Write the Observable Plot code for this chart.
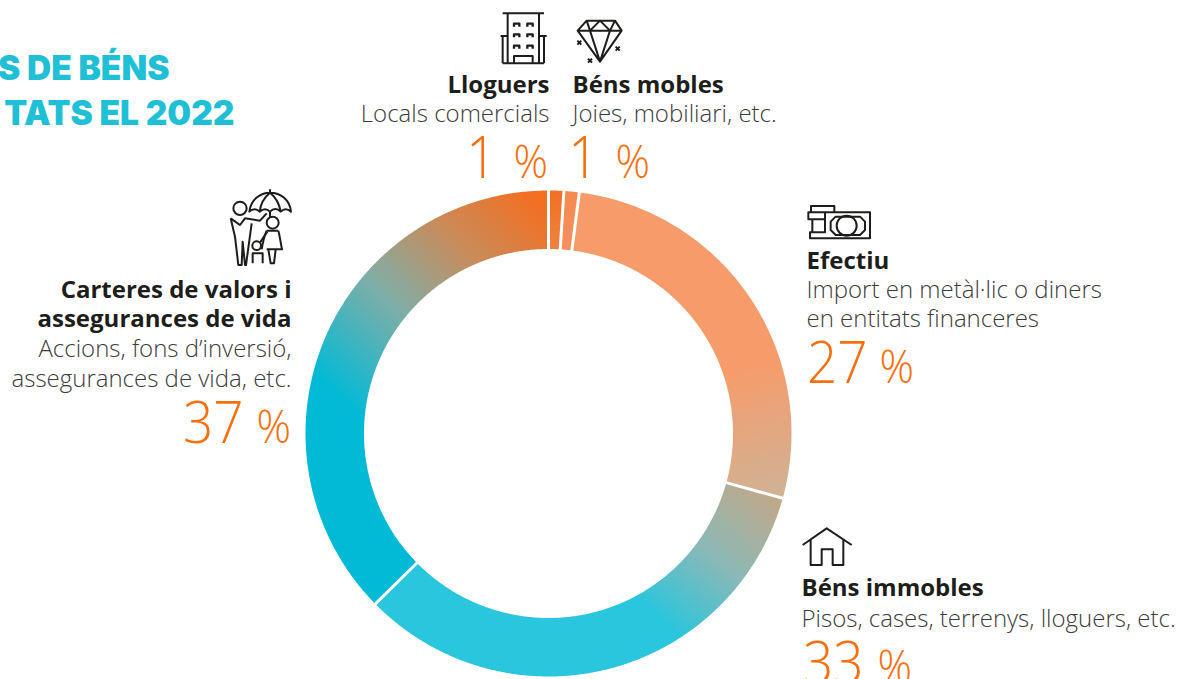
<!DOCTYPE html>
<html><head><meta charset="utf-8">
<style>html,body{margin:0;padding:0;background:#fff;overflow:hidden}svg{display:block}</style>
<script src="https://cdn.jsdelivr.net/npm/d3@7"></script>
<script src="https://cdn.jsdelivr.net/npm/@observablehq/plot@0.6"></script>
</head><body><div id="chart"></div>
<script>
const categories = ["Lloguers","Béns mobles","Efectiu","Béns immobles","Carteres de valors i assegurances de vida"];
const shares = [1,1,27,33,37];
const titleLines = ["S DE BÉNS","TATS EL 2022"];

const CX=548,CY=433,RO=243,RI=184.5,RM=(RO+RI)/2;
const total=d3.sum(shares);
let acc=0;
const slices=categories.map((name,i)=>{const a0=acc/total*2*Math.PI;acc+=shares[i];const a1=acc/total*2*Math.PI;return{name,a0,a1}});
const polar=(a,r)=>({x:CX+r*Math.sin(a),y:CY-r*Math.cos(a)});
const arcPoints=s=>{const n=Math.max(2,Math.ceil((s.a1-s.a0)/0.008));return d3.range(n+1).map(k=>polar(s.a0+(s.a1-s.a0)*k/n,RM))};
const seams=slices.map(s=>({p:polar(s.a0,RI-2),q:polar(s.a0,RO+2)}));

const gradients=[
 {x1:550,y1:190,x2:550,y2:255,stops:[[0,"#F36F21"],[1,"#EC8544"]]},
 {x1:570,y1:190,x2:565,y2:255,stops:[[0,"#F58A4E"],[1,"#F69060"]]},
 {x1:700,y1:300,x2:750,y2:500,stops:[[0,"#F69C6B"],[.38,"#F69C6B"],[1,"#D0B295"]]},
 {x1:770,y1:490,x2:660,y2:620,stops:[[0,"#C2A888"],[.5,"#8DB8B5"],[1,"#29C6DD"]]},
 {x1:530,y1:195,x2:335,y2:395,stops:[[0,"#F36F21"],[.3,"#C98B5A"],[.62,"#7FAEA8"],[1,"#00BAD6"]]}
];
const SVGNS="http://www.w3.org/2000/svg";
const defs=()=>{const g=document.createElementNS(SVGNS,"defs");
 g.innerHTML=gradients.map((d,i)=>`<linearGradient id="g${i}" gradientUnits="userSpaceOnUse" x1="${d.x1}" y1="${d.y1}" x2="${d.x2}" y2="${d.y2}">${d.stops.map(s=>`<stop offset="${s[0]}" stop-color="${s[1]}"/>`).join("")}</linearGradient>`).join("");return g};

const icon=(tx,ty,body)=>()=>{const g=document.createElementNS(SVGNS,"g");
 g.setAttribute("transform",`translate(${tx},${ty}) scale(${1/3})`);g.setAttribute("fill","none");g.setAttribute("stroke","#1d1d1b");g.setAttribute("stroke-width","6");g.setAttribute("stroke-linejoin","round");g.innerHTML=body;return g};
const building=icon(440,0,`<path d="M188 40H312M203 40V190M297 40V190M182 108H203M297 108H320M188 108V190M312 108V190M188 190H312M222 190V168H278V190"/>
 <path stroke-width="7" d="M222 80V71H238V80M262 80V71H278V80M222 112V103H238V112M262 112V103H278V112M222 146V137H238V146M262 146V137H278V146"/>`);
const diamond=icon(440,0,`<path d="M440 62H525L545 92L480 185L413 92Z M413 92H545 M440 62L450 92L480 62L510 92L525 62 M450 92L480 185L510 92"/>
 <path stroke-width="6" d="M412 122L424 134M424 122L412 134M444 176L456 188M456 176L444 188M527 140L539 152M539 140L527 152"/>`);
const family=icon(210,180,`<circle cx="90" cy="85" r="20"/><path d="M62 115L90 135L105 115L150 122L170 100M62 115L75 170L85 255H95L98 185L105 255H108L125 130"/>
 <path d="M118 95C122 60 150 38 180 38C212 38 240 60 243 95C232 85 222 85 212 95C202 85 190 85 180 95C170 85 160 85 149 95C140 85 128 85 118 95ZM180 38C165 50 152 70 149 95M180 38C195 50 208 70 212 95M180 38V28M180 95V112"/>
 <circle cx="188" cy="128" r="18"/><path d="M170 152C162 170 158 190 155 208M205 152C210 170 212 190 216 208H170M175 208L182 250H192L197 208M170 152H205"/>
 <circle cx="140" cy="197" r="13"/><path d="M128 250V220H158V250M150 188L172 155"/>`);
const cash=icon(795,195,`<path d="M90 52H225V130H45V112H90ZM48 52V33H118V52M40 52H90V73H40ZM52 73V112"/>
 <path d="M122 65H195L210 80V105L195 120H122L107 105V80Z"/><circle cx="155" cy="92" r="30"/>`);
const house=icon(790,520,`<path d="M38 75L110 25L185 75M62 60V135H95V88H128V135H160V60"/>`);

const bold=[
 {t:"Lloguers",x:549,y:85,a:"end"},
 {t:"Béns mobles",x:572,y:85,a:"start"},
 {t:"Efectiu",x:806,y:261,a:"start"},
 {t:"Béns immobles",x:801,y:588,a:"start"},
 {t:"Carteres de valors i",x:291,y:290,a:"end"},
 {t:"assegurances de vida",x:291,y:319,a:"end"}
];
const light=[
 {t:"Locals comercials",x:549,y:114,a:"end"},
 {t:"Joies, mobiliari, etc.",x:572,y:114,a:"start"},
 {t:"Import en metàl·lic o diners",x:806,y:290,a:"start"},
 {t:"en entitats financeres",x:806,y:319,a:"start"},
 {t:"Pisos, cases, terrenys, lloguers, etc.",x:801,y:619,a:"start"},
 {t:"Accions, fons d’inversió,",x:291,y:349,a:"end"},
 {t:"assegurances de vida, etc.",x:291,y:379,a:"end"}
];
const pct=[
 {i:0,x:496,px:513,y:159},
 {i:1,x:598,px:615,y:159},
 {i:2,x:867,px:879,y:364},
 {i:3,x:863,px:877,y:664},
 {i:4,x:243,px:256,y:424}
];
const txt=(data,anchorVal,o)=>Plot.text(data.filter(d=>d.a===anchorVal),{x:"x",y:"y",text:"t",textAnchor:anchorVal,...o});
const textStyle={fontFamily:"Open Sans",fontSize:24,fill:"#1d1d1b"};
const squeeze=k=>(i,s,v,d,c,next)=>{const g=next(i,s,v,d,c);g.querySelectorAll("text").forEach(t=>t.setAttribute("transform",`${t.getAttribute("transform")||""} scale(${k},1)`));return g};

const marks=[
 defs,
 ...slices.map((s,i)=>Plot.line(arcPoints(s),{x:"x",y:"y",stroke:`url(#g${i})`,strokeWidth:RO-RI,strokeLinecap:"butt",curve:"linear"})),
 Plot.link(seams,{x1:d=>d.p.x,y1:d=>d.p.y,x2:d=>d.q.x,y2:d=>d.q.y,stroke:"white",strokeWidth:3}),
 txt(bold,"start",{...textStyle,fontWeight:700}),txt(bold,"end",{...textStyle,fontWeight:700}),
 txt(light,"start",{...textStyle,fill:"#3c3c3b",fontWeight:300}),txt(light,"end",{...textStyle,fill:"#3c3c3b",fontWeight:300}),
 Plot.text(pct,{x:"x",y:"y",text:d=>String(shares[d.i]),textAnchor:"end",fontFamily:"Open Sans",fontWeight:300,fontSize:59,fill:"#F7700F",render:squeeze(.9)}),
 Plot.text(pct,{x:"px",y:d=>d.y+4,text:()=>"%",textAnchor:"start",fontFamily:"Open Sans",fontWeight:300,fontSize:46,fill:"#F7700F",render:squeeze(.93)}),
 Plot.text(titleLines,{x:(d,i)=>[169,234][i],y:(d,i)=>[69,114][i],text:d=>d,textAnchor:"end",fontFamily:"Inter",fontWeight:900,fontSize:33.5,fill:"#1FC0D5"}),
 building,diamond,family,cash,house
];
document.getElementById("chart").append(Plot.plot({
 width:1177,height:679,margin:0,
 x:{domain:[0,1177],range:[0,1177],axis:null},
 y:{domain:[0,679],range:[0,679],axis:null},
 style:{background:"white"},
 marks
}));
</script></body></html>
